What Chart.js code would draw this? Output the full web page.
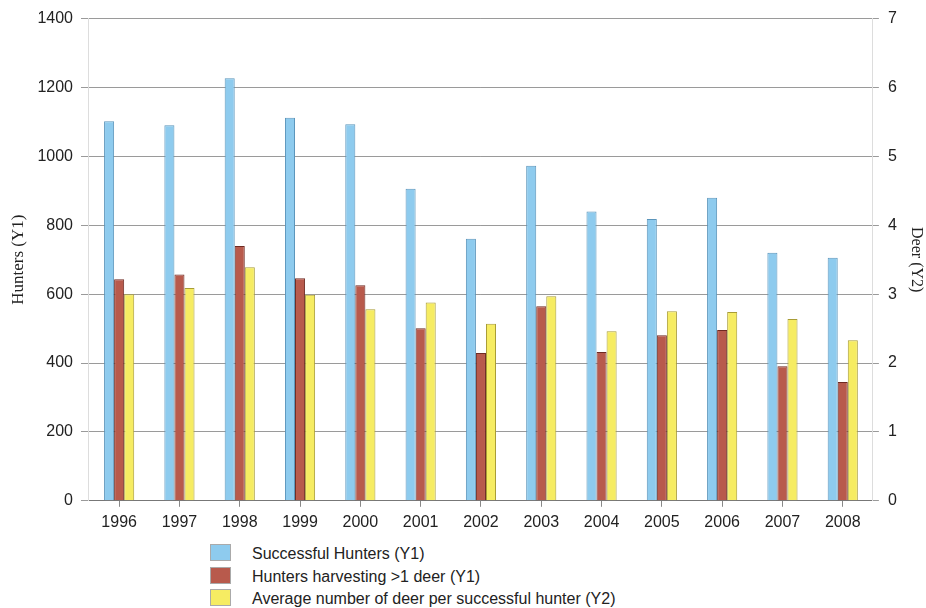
<!DOCTYPE html>
<html>
<head>
<meta charset="utf-8">
<script src="https://cdn.jsdelivr.net/npm/chart.js@4.4.1/dist/chart.umd.min.js"></script>
<style>
  body { margin: 0; background: #fff; }
  #wrap { position: relative; width: 926px; height: 608px; }
  #box { position: absolute; left: 0; top: 0; width: 926px; height: 538px; }
  #legend { position: absolute; left: 210px; top: 543px; font-family: "Liberation Sans", Arial, sans-serif; font-size: 16px; color: #222; }
  #legend div { height: 22.5px; line-height: 22.5px; }
  #legend span.sw { display: inline-block; width: 19px; height: 15px; vertical-align: -2px; margin-right: 21px; border: 1px solid #aaa; }
</style>
</head>
<body>
<div id="wrap">
  <div id="box"><canvas id="myChart"></canvas></div>
  <div id="legend"></div>
</div>
<script>
const years = ["1996","1997","1998","1999","2000","2001","2002","2003","2004","2005","2006","2007","2008"];
const successful = [1102, 1090, 1227, 1112, 1093, 906, 761, 973, 840, 818, 880, 720, 706];
const multiDeer = [643, 657, 740, 646, 626, 501, 429, 565, 432, 481, 496, 391, 345];
const avgDeer = [3.0, 3.09, 3.39, 2.99, 2.78, 2.88, 2.57, 2.97, 2.46, 2.75, 2.74, 2.64, 2.33];
const names = [
  "Successful Hunters (Y1)",
  "Hunters harvesting >1 deer (Y1)",
  "Average number of deer per successful hunter (Y2)"
];
const fills = ["#8ecbee", "#b85a4c", "#f6ec62"];
const edges = ["#5b95bb", "#6e2a22", "#a89c36"];

const tickFont = { family: "Liberation Sans", size: 16 };

const ctx = document.getElementById('myChart');

const chart = new Chart(ctx, {
  type: "bar",
  data: {
    labels: years,
    datasets: [
      { label: names[0], data: successful, yAxisID: "y", backgroundColor: fills[0], borderColor: edges[0], borderWidth: 1 },
      { label: names[1], data: multiDeer, yAxisID: "y", backgroundColor: fills[1], borderColor: edges[1], borderWidth: 1 },
      { label: names[2], data: avgDeer, yAxisID: "y2", backgroundColor: fills[2], borderColor: edges[2], borderWidth: 1 }
    ]
  },
  options: {
    responsive: true,
    maintainAspectRatio: false,
    animation: false,
    layout: { padding: { top: 2, right: 0, left: 5, bottom: 0 } },
    datasets: { bar: { categoryPercentage: 0.5, barPercentage: 1.0 } },
    plugins: {
      legend: { display: false },
      tooltip: { enabled: false }
    },
    scales: {
      x: {
        grid: { display: true, drawOnChartArea: false, offset: false, tickLength: 6, color: "#888" },
        border: { color: "#777" },
        ticks: { color: "#222", font: tickFont, padding: 6 }
      },
      y: {
        position: "left",
        min: 0, max: 1400,
        ticks: { stepSize: 200, color: "#222", font: tickFont, padding: 8, callback: v => String(v) },
        grid: { color: "#9a9a9a", tickLength: 8 },
        border: { color: "#ddd" },
        title: { display: true, text: "Hunters (Y1)", color: "#222", font: { family: "Liberation Serif", size: 17 }, padding: { top: 3, bottom: 1 } }
      },
      y2: {
        position: "right",
        min: 0, max: 7,
        ticks: { stepSize: 1, color: "#222", font: tickFont, padding: 9, callback: v => String(v) },
        grid: { drawOnChartArea: false, color: "#9a9a9a", tickLength: 6 },
        border: { color: "#ddd" },
        title: { display: true, text: "Deer (Y2)", color: "#222", font: { family: "Liberation Serif", size: 16 }, padding: { top: 0, bottom: 1 } }
      }
    }
  }
});

// legend as plain html list under the chart
const leg = document.getElementById('legend');
names.forEach((n, i) => {
  const row = document.createElement('div');
  row.innerHTML = '<span class="sw" style="background:' + fills[i] + '"></span>' + n.replace('>', '&gt;');
  leg.appendChild(row);
});
</script>
</body>
</html>
